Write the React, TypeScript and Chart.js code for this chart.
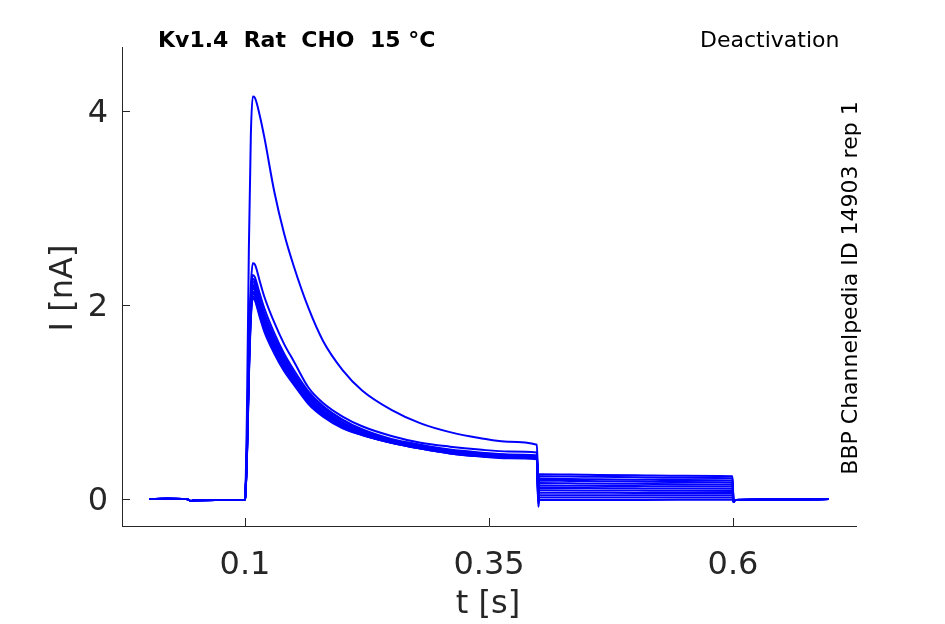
import { useEffect, useRef } from 'react';
import Chart from 'chart.js/auto';

// time bases (s)
const preTime = [0.002, 0.02, 0.04, 0.045, 0.05, 0.07, 0.099, 0.1];
const stepTime = [0.102, 0.104, 0.106, 0.108, 0.11, 0.115, 0.12, 0.13, 0.14, 0.15, 0.165, 0.18, 0.2, 0.22, 0.25, 0.28, 0.31, 0.34, 0.37, 0.399];
const tailTime = [0.4005, 0.4015, 0.45, 0.5, 0.55, 0.5995];
const postTime = [0.6005, 0.602, 0.65, 0.698];

// baseline current (nA), shared by all sweeps
const preCurrent = [0, 0.003, 0, -0.02, -0.012, -0.01, -0.01, 0];
const postCurrent = [-0.03, -0.01, -0.005, 0];

// current during the test pulse (nA), one row per sweep
const stepCurrent = [
  [0.9, 2.6, 3.75, 4.15, 4.14, 3.96, 3.72, 3.17, 2.74, 2.4, 1.97, 1.63, 1.33, 1.12, 0.92, 0.78, 0.69, 0.63, 0.59, 0.56],
  [0.6, 1.6, 2.2, 2.43, 2.42, 2.25, 2.08, 1.82, 1.6, 1.42, 1.15, 0.99, 0.85, 0.75, 0.65, 0.58, 0.54, 0.51, 0.49, 0.48],
  [0.55, 1.5, 2.1, 2.31, 2.29, 2.12, 1.96, 1.71, 1.5, 1.33, 1.11, 0.96, 0.82, 0.72, 0.62, 0.56, 0.51, 0.48, 0.46, 0.45],
  [0.5, 1.45, 2.05, 2.27, 2.25, 2.07, 1.91, 1.67, 1.47, 1.3, 1.09, 0.95, 0.81, 0.71, 0.61, 0.55, 0.5, 0.47, 0.455, 0.445],
  [0.5, 1.42, 2.02, 2.24, 2.22, 2.04, 1.88, 1.64, 1.44, 1.28, 1.07, 0.93, 0.79, 0.7, 0.6, 0.54, 0.495, 0.465, 0.45, 0.44],
  [0.48, 1.4, 2.0, 2.21, 2.19, 2.01, 1.85, 1.61, 1.42, 1.26, 1.05, 0.91, 0.78, 0.69, 0.6, 0.535, 0.49, 0.46, 0.445, 0.435],
  [0.47, 1.38, 1.98, 2.19, 2.17, 1.98, 1.82, 1.59, 1.4, 1.24, 1.04, 0.9, 0.77, 0.68, 0.59, 0.53, 0.485, 0.455, 0.44, 0.43],
  [0.46, 1.36, 1.96, 2.17, 2.15, 1.96, 1.8, 1.57, 1.38, 1.23, 1.02, 0.89, 0.76, 0.675, 0.59, 0.53, 0.48, 0.45, 0.435, 0.425],
  [0.45, 1.33, 1.93, 2.14, 2.12, 1.94, 1.78, 1.55, 1.36, 1.21, 1.01, 0.88, 0.75, 0.67, 0.585, 0.525, 0.48, 0.45, 0.43, 0.42],
  [0.44, 1.3, 1.9, 2.12, 2.1, 1.92, 1.76, 1.53, 1.35, 1.2, 1.0, 0.87, 0.745, 0.665, 0.58, 0.52, 0.475, 0.445, 0.43, 0.415],
  [0.43, 1.28, 1.88, 2.09, 2.07, 1.9, 1.74, 1.52, 1.33, 1.19, 0.99, 0.86, 0.74, 0.66, 0.58, 0.52, 0.47, 0.44, 0.425, 0.415],
  [0.42, 1.25, 1.85, 2.07, 2.05, 1.88, 1.72, 1.5, 1.32, 1.18, 0.98, 0.85, 0.73, 0.66, 0.58, 0.52, 0.47, 0.44, 0.42, 0.41],
];

// tail currents after the step to the deactivation potentials (nA)
const tailCurrent = [
  [0.2, 0.255, 0.25, 0.245, 0.24, 0.235],
  [0.18, 0.235, 0.23, 0.225, 0.22, 0.215],
  [0.15, 0.21, 0.205, 0.2, 0.195, 0.19],
  [0.13, 0.19, 0.185, 0.18, 0.175, 0.17],
  [0.1, 0.165, 0.16, 0.157, 0.153, 0.15],
  [0.08, 0.14, 0.137, 0.134, 0.131, 0.128],
  [0.05, 0.115, 0.113, 0.11, 0.108, 0.106],
  [0.03, 0.09, 0.089, 0.087, 0.085, 0.083],
  [0.0, 0.065, 0.064, 0.063, 0.062, 0.061],
  [-0.02, 0.04, 0.04, 0.039, 0.039, 0.038],
  [-0.05, 0.015, 0.015, 0.015, 0.015, 0.015],
  [-0.08, -0.01, -0.01, -0.009, -0.008, -0.008],
];

const xTickValues = [0.1, 0.35, 0.6];
const yTickValues = [0, 2, 4];

const FONT = '"DejaVu Sans", sans-serif';
const AXIS_COLOR = '#262626';

const toPoints = (ts: number[], vs: number[]) => ts.map((t, i) => ({ x: t, y: vs[i] }));

const textPlugin = {
  id: 'figureText',
  afterDraw(chart: Chart) {
    const { ctx, chartArea, scales } = chart;
    ctx.save();

    // inward tick marks
    ctx.strokeStyle = AXIS_COLOR;
    ctx.lineWidth = 1;
    ctx.beginPath();
    xTickValues.forEach((v) => {
      const px = Math.round(scales.x.getPixelForValue(v)) + 0.5;
      ctx.moveTo(px, chartArea.bottom);
      ctx.lineTo(px, chartArea.bottom - 8);
    });
    yTickValues.forEach((v) => {
      const py = Math.round(scales.y.getPixelForValue(v)) + 0.5;
      ctx.moveTo(chartArea.left, py);
      ctx.lineTo(chartArea.left + 8, py);
    });
    ctx.stroke();

    // title and protocol name
    ctx.fillStyle = '#000';
    ctx.textBaseline = 'alphabetic';
    ctx.textAlign = 'left';
    ctx.font = `bold 22px ${FONT}`;
    ctx.fillText('Kv1.4  Rat  CHO  15 °C', 158, 47);
    ctx.font = `22px ${FONT}`;
    ctx.fillText('Deactivation', 700, 47);

    // axis labels
    ctx.fillStyle = AXIS_COLOR;
    ctx.textAlign = 'center';
    ctx.font = `32px ${FONT}`;
    ctx.fillText('t [s]', 488, 613);
    ctx.save();
    ctx.translate(72, 288);
    ctx.rotate(-Math.PI / 2);
    ctx.fillText('I [nA]', 0, 0);
    ctx.restore();

    // source note on the right
    ctx.fillStyle = '#000';
    ctx.font = `22px ${FONT}`;
    ctx.save();
    ctx.translate(857, 288);
    ctx.rotate(-Math.PI / 2);
    ctx.fillText('BBP Channelpedia ID 14903 rep 1', 0, 0);
    ctx.restore();

    ctx.restore();
  },
};

export default function App() {
  const chartRef = useRef<HTMLCanvasElement>(null);
  const chartInstance = useRef<Chart | null>(null);

  useEffect(() => {
    if (!chartRef.current) return;

    if (chartInstance.current) {
      chartInstance.current.destroy();
    }

    const datasets = stepCurrent.map((step, k) => ({
      label: `sweep ${k + 1}`,
      data: [
        ...toPoints(preTime, preCurrent),
        ...toPoints(stepTime, step),
        ...toPoints(tailTime, tailCurrent[k]),
        ...toPoints(postTime, postCurrent),
      ],
      borderColor: '#0000ff',
      borderWidth: 2,
      pointRadius: 0,
      cubicInterpolationMode: 'monotone' as const,
      fill: false,
    }));

    const ctx = chartRef.current.getContext('2d');
    if (ctx) {
      chartInstance.current = new Chart(ctx, {
        type: 'line',
        data: { datasets },
        options: {
          responsive: false,
          animation: false,
          layout: { padding: { top: 47, right: 89, left: 0, bottom: 0 } },
          scales: {
            x: {
              type: 'linear',
              min: -0.026,
              max: 0.726,
              afterBuildTicks: (axis: any) => {
                axis.ticks = xTickValues.map((v) => ({ value: v }));
              },
              afterFit: (scale: any) => {
                scale.height = 98;
              },
              grid: { display: false, drawTicks: false },
              border: { display: true, color: AXIS_COLOR, width: 1 },
              ticks: {
                padding: 20,
                color: AXIS_COLOR,
                font: { family: FONT, size: 32 },
                maxRotation: 0,
                callback: (v: any) => String(v),
              },
            },
            y: {
              type: 'linear',
              min: -0.278,
              max: 4.66,
              afterBuildTicks: (axis: any) => {
                axis.ticks = yTickValues.map((v) => ({ value: v }));
              },
              afterFit: (scale: any) => {
                scale.width = 122;
              },
              grid: { display: false, drawTicks: false },
              border: { display: true, color: AXIS_COLOR, width: 1 },
              ticks: {
                padding: 14,
                labelOffset: 3,
                color: AXIS_COLOR,
                font: { family: FONT, size: 32 },
                callback: (v: any) => String(v),
              },
            },
          },
          plugins: {
            legend: { display: false },
            tooltip: { enabled: false },
          },
        },
        plugins: [textPlugin],
      });
    }

    return () => {
      if (chartInstance.current) {
        chartInstance.current.destroy();
        chartInstance.current = null;
      }
    };
  }, []);

  return (
    <div style={{ position: 'absolute', left: 0, top: 0, width: 945, height: 624, background: '#fff' }}>
      <canvas ref={chartRef} width={945} height={624} style={{ width: 945, height: 624 }} />
    </div>
  );
}
